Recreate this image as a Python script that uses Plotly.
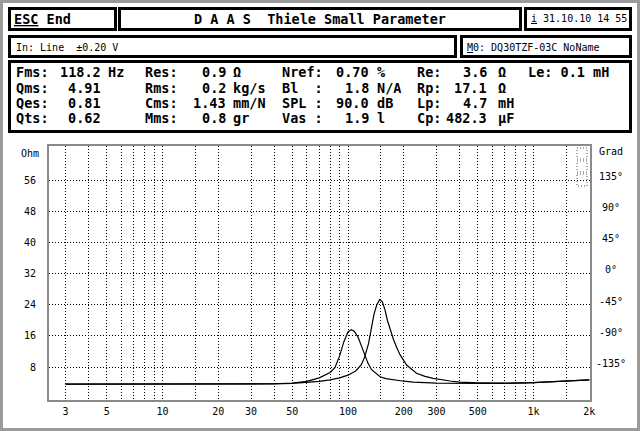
import plotly.graph_objects as go

W, H = 640, 431

# impedance curves (Hz, Ohm)
freq_a = [3, 10, 30, 40, 50, 60, 70, 80, 85, 90, 95, 100, 104, 108, 113, 118, 123, 128, 134, 142, 149,
          160, 175, 200, 225, 300, 500, 700, 1000, 1500, 2000]
ohm_a = [3.6, 3.6, 3.62, 3.7, 3.9, 4.3, 5.2, 6.6, 7.8, 10.8, 14.5, 17.0, 17.6, 17.2, 15.8, 13.3, 11.1, 9.0,
         7.3, 6.2, 5.5, 5.0, 4.7, 4.35, 4.1, 3.85, 3.8, 3.8, 4.0, 4.3, 4.7]

freq_b = [3, 30, 40, 50, 60, 70, 80, 90, 100, 110, 118, 123, 129, 134, 138, 143, 148, 153, 158, 163, 170,
          176, 183, 191, 207, 234, 260, 288, 355, 400, 500, 700, 1000, 1500, 2000]
ohm_b = [3.6, 3.6, 3.65, 3.8, 4.0, 4.3, 4.7, 5.2, 5.9, 7.0, 8.6, 10.6, 14.0, 18.5, 21.5, 24.0, 25.3, 24.8,
         22.8, 20.0, 17.0, 15.0, 13.0, 11.1, 8.5, 6.4, 5.6, 5.1, 4.4, 4.1, 3.95, 3.85, 4.0, 4.3, 4.7]

grid_freqs = [3, 4, 5, 6, 7, 8, 9, 10, 15, 20, 30, 40, 50, 60, 70, 80, 90, 100, 150, 200, 300, 400, 500,
              600, 700, 800, 900, 1000, 1500, 2000]
freq_labels = {3: "3", 5: "5", 10: "10", 20: "20", 30: "30", 50: "50", 100: "100", 200: "200",
               300: "300", 500: "500", 1000: "1k", 2000: "2k"}
ohm_ticks = [8, 16, 24, 32, 40, 48, 56]
grad_ticks = [-135, -90, -45, 0, 45, 90, 135]

# Thiele/Small parameter table
par_labels = [["Fms:", "Qms:", "Qes:", "Qts:"],
              ["Res:", "Rms:", "Cms:", "Mms:"],
              ["Nref:", "Bl\u00a0\u00a0:", "SPL\u00a0:", "Vas\u00a0:"],
              ["Re:", "Rp:", "Lp:", "Cp:"]]
par_values = [["118.2", "4.91", "0.81", "0.62"],
              ["0.9", "0.2", "1.43", "0.8"],
              ["0.70", "1.8", "90.0", "1.9"],
              ["3.6", "17.1", "4.7", "482.3"]]
par_units = [["Hz", "", "", ""],
             ["Ω", "kg/s", "mm/N", "gr"],
             ["%", "N/A", "dB", "l"],
             ["Ω", "Ω", "mH", "μF"]]

title_text = "D A A S\u00a0\u00a0Thiele Small Parameter"
date_text = "<u>i</u> 31.10.10 14 55"
input_text = "In: Line\u00a0\u00a0±0.20 V"
model_text = "<u>M</u>0: DQ30TZF-03C NoName"


def px(x):
    return x / W


def py(y):
    return 1 - y / H


BOLD = dict(family="DejaVu Sans Mono", size=13.5, color="black", weight="bold")
THIN = dict(family="DejaVu Sans Mono", size=10, color="black")

fig = go.Figure()
for f, z in [(freq_a, ohm_a), (freq_b, ohm_b)]:
    fig.add_trace(go.Scatter(x=f, y=z, mode="lines", line=dict(color="black", width=1.2),
                             hoverinfo="skip", showlegend=False))
# invisible trace to activate the right axis
fig.add_trace(go.Scatter(x=[100], y=[0], yaxis="y2", mode="markers", marker=dict(opacity=0),
                         hoverinfo="skip", showlegend=False))

grid = dict(showgrid=True, gridcolor="black", gridwidth=1, griddash="1px,2px", zeroline=False,
            automargin=False)

fig.update_layout(
    width=W, height=H,
    margin=dict(l=0, r=0, t=0, b=0, pad=0),
    paper_bgcolor="white", plot_bgcolor="white",
    xaxis=dict(type="log", domain=[px(49), px(590)], range=[0.388, 3.3046],
               tickvals=grid_freqs, ticktext=[freq_labels.get(v, "") for v in grid_freqs],
               ticks="", tickfont=THIN, ticklabelstandoff=1,
               showline=True, mirror=True, linecolor="#8a8a8a", linewidth=2, **grid),
    yaxis=dict(domain=[py(400), py(146)], range=[-0.47, 64.73],
               tickvals=ohm_ticks, ticktext=[str(v) for v in ohm_ticks],
               ticks="", tickfont=THIN, ticklabelstandoff=9,
               showline=True, mirror=True, linecolor="#8a8a8a", linewidth=2, **grid),
    yaxis2=dict(overlaying="y", side="right", range=[-187.7, 179.0],
                showticklabels=False, ticks="", automargin=False,
                showgrid=False, zeroline=False, showline=False),
)

# screen frame and boxes
shapes = [dict(type="rect", xref="paper", yref="paper",
               x0=px(1.5), x1=px(638.5), y0=py(1.5), y1=py(429.5),
               line=dict(color="#9a9a9a", width=3))]
boxes = [(8, 7, 117, 31), (118, 7, 522, 31), (524, 7, 632, 31),
         (8, 35, 457, 58), (460, 35, 632, 58), (8, 60, 632, 133)]
for x0, y0, x1, y1 in boxes:
    shapes.append(dict(type="rect", xref="paper", yref="paper",
                       x0=px(x0 + 1.5), x1=px(x1 - 1.5), y0=py(y0 + 1.5), y1=py(y1 - 1.5),
                       line=dict(color="black", width=3)))
# small dotted markers in the upper right corner of the graph
for y0, y1 in [(148, 159), (161, 172), (174, 186)]:
    shapes.append(dict(type="rect", xref="paper", yref="paper",
                       x0=px(577), x1=px(587), y0=py(y0), y1=py(y1),
                       line=dict(color="#555", width=1, dash="1px,2px")))
fig.update_layout(shapes=shapes)


def note(text, x, y, font, anchor="left"):
    fig.add_annotation(text=text, x=px(x), y=py(y), xref="paper", yref="paper",
                       xanchor=anchor, yanchor="middle", showarrow=False, font=font,
                       borderpad=0, borderwidth=0)


note("<u>ESC</u>\u00a0End", 14, 19, BOLD)
note(title_text, 320, 19, BOLD, "center")
note(date_text, 531, 19, THIN)
note(input_text, 16, 47, THIN)
note(model_text, 467, 47, THIN)

row_y = [72, 88, 103, 118]
label_x = [16, 145, 282, 417]
value_x = [101, 226, 369, 487]
unit_x = [108, 233, 377, 498]
for c in range(4):
    for r in range(4):
        note(par_labels[c][r], label_x[c], row_y[r], BOLD)
        note(par_values[c][r], value_x[c], row_y[r], BOLD, "right")
        if par_units[c][r]:
            note(par_units[c][r], unit_x[c], row_y[r], BOLD)
note("Le: 0.1 mH", 528, row_y[0], BOLD)

note("Ohm", 39, 153, THIN, "right")
note("Grad", 611, 151, THIN, "center")

# phase scale labels, centred as on the DOS screen, placed on the right axis scale
for g in grad_ticks:
    fig.add_annotation(text=f"{g}°", x=px(611), y=g, xref="paper", yref="y2",
                       xanchor="center", yanchor="middle", showarrow=False, font=THIN,
                       borderpad=0, borderwidth=0)

# drop the default page margin so the figure sits at the window origin
fig.write_html("out.html", config={"displayModeBar": False},
               post_script="document.body.style.margin='0';")
